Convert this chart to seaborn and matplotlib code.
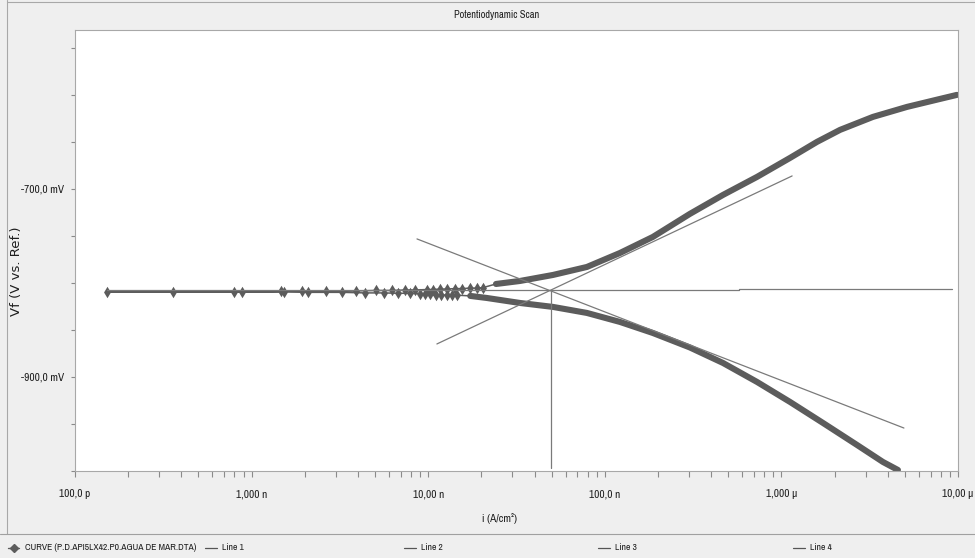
import matplotlib
matplotlib.use("Agg")
import matplotlib.pyplot as plt
from matplotlib.lines import Line2D
from matplotlib.ticker import FixedLocator, FixedFormatter, LogLocator, MultipleLocator, NullFormatter
import matplotlib.font_manager as fm
import seaborn as sns

# ---------------- data (current in A/cm2, potential in mV) ----------------
# cathodic branch (start of the scan)
cath_i = [4.57e-6, 3.76e-6, 2.68e-6, 1.72e-6, 1.12e-6, 7.28e-7, 4.67e-7, 3.03e-7,
          1.87e-7, 1.22e-7, 7.92e-8, 5.09e-8, 3.31e-8, 2.15e-8, 1.73e-8]
cath_E = [-998.9, -990.4, -972.3, -948.9, -926.6, -905.3, -885.1, -868.6,
          -853.2, -841.5, -831.9, -825.5, -821.3, -816.0, -813.8]
# low-current points around the corrosion potential
low_i = [1.46e-8, 1.36e-8, 1.28e-8, 1.18e-8, 1.11e-8, 1.02e-8, 9.60e-9, 8.99e-9,
         7.89e-9, 6.75e-9, 5.62e-9, 4.39e-9, 3.25e-9, 2.09e-9, 1.52e-9, 8.82e-10, 1.52e-10,
         3.59e-10, 7.95e-10, 1.47e-9, 1.93e-9, 2.64e-9, 3.90e-9, 5.06e-9, 6.24e-9,
         7.39e-9, 8.42e-9, 9.85e-9, 1.06e-8, 1.17e-8, 1.28e-8, 1.42e-8, 1.55e-8,
         1.73e-8, 1.89e-8, 2.04e-8]
low_E = [-813.0, -813.0, -813.0, -812.5, -812.5, -812.0, -812.0, -811.5,
         -811.0, -811.0, -810.6, -810.6, -810.0, -810.0, -809.6, -809.6, -809.6,
         -809.6, -809.6, -809.0, -808.5, -808.5, -808.5, -808.0, -808.0,
         -807.5, -807.5, -807.0, -807.0, -806.5, -806.5, -806.0, -806.0,
         -805.5, -805.5, -805.0]
# anodic branch (end of the scan)
anod_i = [2.42e-8, 3.31e-8, 5.09e-8, 7.92e-8, 1.22e-7, 1.87e-7, 3.03e-7, 4.67e-7,
          7.28e-7, 1.12e-6, 1.59e-6, 2.15e-6, 3.30e-6, 5.14e-6, 7.91e-6, 9.86e-6]
anod_E = [-801.1, -797.9, -791.5, -783.0, -768.1, -751.1, -726.6, -706.4,
          -687.2, -667.0, -650.0, -637.2, -623.4, -612.8, -604.3, -600.0]

# Tafel fit lines
line1_i = [1.12e-8, 1.15e-6]
line1_E = [-864.9, -686.2]
line2_i = [8.64e-9, 4.94e-6]
line2_E = [-753.2, -954.3]
line3_i = [1.52e-10, 5.75e-7, 5.75e-7, 9.25e-6]
line3_E = [-807.4, -807.4, -806.6, -806.6]
line4_i = [4.94e-8, 4.94e-8]
line4_E = [-807.4, -996.8]

x_tick_vals = [1e-10, 1e-9, 1e-8, 1e-7, 1e-6, 1e-5]
x_tick_labels = ["100,0 p", "1,000 n", "10,00 n", "100,0 n", "1,000 \u00b5", "10,00 \u00b5"]
y_tick_vals = [-900, -700]
y_tick_labels = ["-900,0 mV", "-700,0 mV"]

title = "Potentiodynamic Scan"
x_label = "i (A/cm\u00b2)"
y_label = "Vf (V vs. Ref.)"
legend_labels = ["CURVE (P.D.API5LX42.P0.AGUA DE MAR.DTA)", "Line 1", "Line 2", "Line 3", "Line 4"]

# ---------------- fonts ----------------
sns.set_theme(style="white")


def pick_narrow():
    best, best_score = None, 99
    for f in fm.fontManager.ttflist:
        fn = f.fname.lower().replace("-", "").replace("_", "")
        nm = f.name.lower()
        if f.style != "normal":
            continue
        if f.weight not in (400, "normal", "regular"):
            continue
        if "bold" in fn or "italic" in fn or "light" in fn or "medium" in fn or "thin" in fn or "black" in fn:
            continue
        score = None
        if "narrow" in fn or "narrow" in nm:
            score = 0
        elif "extracondensed" in fn or "ultracondensed" in fn:
            score = 2
        elif "semicondensed" in fn:
            score = 3
        elif "condensed" in fn or "condensed" in nm:
            score = 1
        if score is not None and "mono" not in fn and "serif" not in nm and score < best_score:
            best, best_score = f.fname, score
    return best


narrow_file = pick_narrow()
plt.rcParams["font.family"] = ["Liberation Sans", "DejaVu Sans"]


def narrow_props(size):
    if narrow_file:
        return fm.FontProperties(fname=narrow_file, size=size)
    return fm.FontProperties(family=["Liberation Sans", "DejaVu Sans"], size=size)


W, H = 975, 558
BG = "#efefef"
CURVE_C = "#5c5c5c"
LINE_C = "#7a7a7a"
TEXT_C = "#1e1e1e"
FRAME_C = "#a8a8a8"

fig = plt.figure(figsize=(W / 100, H / 100), dpi=100)
fig.patch.set_facecolor(BG)
renderer = fig.canvas.get_renderer()


def fitted_size(text, target_px, base=8.0, props_fn=narrow_props):
    t = fig.text(0, 0, text, fontproperties=props_fn(base))
    bb = t.get_window_extent(renderer=renderer)
    t.remove()
    w = bb.width
    return base * target_px / w if w > 0 else base


L, R, T, B = 75, 958, 30, 471
ax = fig.add_axes([L / W, 1 - B / H, (R - L) / W, (B - T) / H])
ax.set_facecolor("white")
ax.set_xscale("log")

curve_i = cath_i + low_i + anod_i
curve_E = cath_E + low_E + anod_E

# whole scan as a thin connected line
sns.lineplot(x=curve_i, y=curve_E, sort=False, estimator=None, ax=ax, color=CURVE_C, lw=1.1)
# dense branches drawn as thick bands
for xi, yi in [(cath_i, cath_E), (anod_i, anod_E)]:
    sns.lineplot(x=xi, y=yi, sort=False, estimator=None, ax=ax, color=CURVE_C,
                 lw=4.4, solid_capstyle="round", solid_joinstyle="round")
# sparse points near the corrosion potential shown with diamond markers
sns.scatterplot(x=low_i, y=low_E, ax=ax, color=CURVE_C, marker="d", s=34, linewidth=0)

for xi, yi in [(line1_i, line1_E), (line2_i, line2_E), (line3_i, line3_E), (line4_i, line4_E)]:
    sns.lineplot(x=xi, y=yi, sort=False, estimator=None, ax=ax, color=LINE_C, lw=0.9)

ax.set_xlim(1e-10, 1e-5)
ax.set_ylim(-1000, -531)

ax.xaxis.set_major_locator(FixedLocator(x_tick_vals))
ax.xaxis.set_major_formatter(FixedFormatter(x_tick_labels))
ax.xaxis.set_minor_locator(LogLocator(base=10, subs=range(2, 10), numticks=20))
ax.xaxis.set_minor_formatter(NullFormatter())
ax.yaxis.set_major_locator(FixedLocator(y_tick_vals))
ax.yaxis.set_major_formatter(FixedFormatter(y_tick_labels))
ax.yaxis.set_minor_locator(MultipleLocator(50))

tick_size = 1.06 * 0.5 * (fitted_size("-700,0 mV", 37) + fitted_size("100,0 p", 32))
ax.tick_params(axis="x", which="both", direction="out", length=4, width=0.8,
               color="#8a8a8a", labelcolor=TEXT_C, pad=9, bottom=True)
ax.tick_params(axis="y", which="both", direction="out", length=3, width=0.8,
               color="#8a8a8a", labelcolor=TEXT_C, pad=5, left=True)
for lab in ax.get_xticklabels() + ax.get_yticklabels():
    lab.set_fontproperties(narrow_props(tick_size))
ax.set_xlabel("")
ax.set_ylabel("")
for s in ax.spines.values():
    s.set_color(FRAME_C)
    s.set_linewidth(0.8)

# texts
fig.text(497 / W, 1 - 15 / H, title, ha="center", va="center", color=TEXT_C,
         fontproperties=narrow_props(fitted_size(title, 85)))
fig.text(499 / W, 1 - 519 / H, x_label, ha="center", va="center", color=TEXT_C,
         fontproperties=narrow_props(fitted_size(x_label, 35)))
dv = lambda s: fm.FontProperties(family=["DejaVu Sans"], size=s)
fig.text(17 / W, 1 - 271 / H, y_label, ha="center", va="center", rotation=90, color=TEXT_C,
         fontproperties=dv(fitted_size(y_label, 90, props_fn=dv)))

# outer frame lines and separator above legend
fig.add_artist(Line2D([6.5 / W, 6.5 / W], [1, 1 - 533.5 / H], transform=fig.transFigure,
                      color=FRAME_C, lw=0.8))
fig.add_artist(Line2D([6.5 / W, 1], [1 - 1.5 / H, 1 - 1.5 / H], transform=fig.transFigure,
                      color=FRAME_C, lw=0.8))
fig.add_artist(Line2D([0, 1], [1 - 533.5 / H, 1 - 533.5 / H], transform=fig.transFigure,
                      color="#a0a0a0", lw=0.8))

# legend row
leg_size = fitted_size(legend_labels[0], 172)
ly = 1 - 548 / H
fig.add_artist(Line2D([8 / W, 19 / W], [ly, ly], transform=fig.transFigure, color=CURVE_C, lw=1.0))
fig.add_artist(Line2D([13.5 / W], [ly], transform=fig.transFigure, color=CURVE_C,
                      marker="D", markersize=4, lw=0))
fig.text(25 / W, ly, legend_labels[0], ha="left", va="center", color=TEXT_C,
         fontproperties=narrow_props(leg_size))
for x0, lab in zip([205, 404, 598, 793], legend_labels[1:]):
    fig.add_artist(Line2D([x0 / W, (x0 + 12) / W], [ly, ly], transform=fig.transFigure,
                          color="#555555", lw=0.9))
    fig.text((x0 + 17) / W, ly, lab, ha="left", va="center", color=TEXT_C,
             fontproperties=narrow_props(leg_size))

fig.savefig("out.png", dpi=100, facecolor=BG)
